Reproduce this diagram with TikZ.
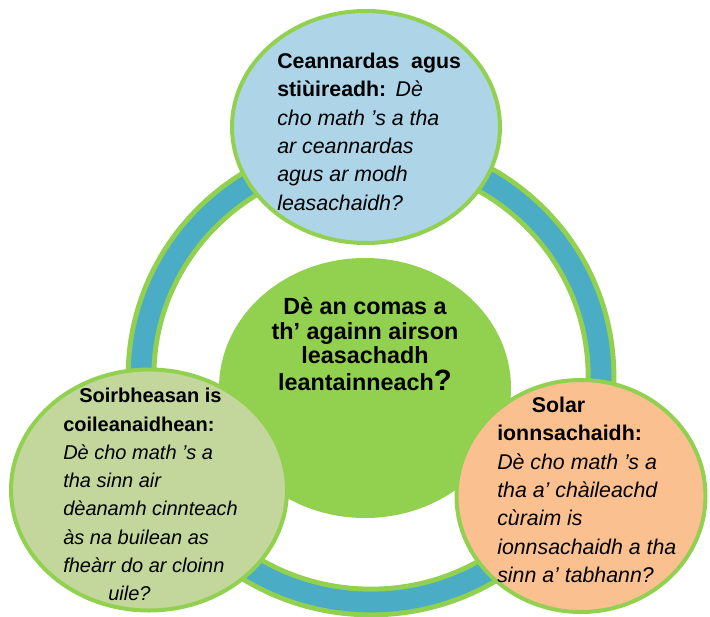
\documentclass[tikz,border=0pt]{standalone}
\usepackage{fontspec}
\setmainfont{Liberation Sans}
\usetikzlibrary{shapes.geometric}

\definecolor{hubgreen}{RGB}{146,208,80}
\definecolor{bandblue}{RGB}{75,172,198}
\definecolor{paleblue}{RGB}{174,212,232}
\definecolor{palegreen}{RGB}{195,214,155}
\definecolor{peach}{RGB}{250,192,144}

\begin{document}
\begin{tikzpicture}[x=0.75pt,y=-0.75pt,
    bubble/.style={ellipse,draw=hubgreen,line width=3pt,inner sep=0pt},
    bubbletext/.style={anchor=north west,inner sep=0pt,align=left}]
    \useasboundingbox (0,0) rectangle (710,617);

    % Ring round the hub
    \draw[hubgreen,line width=23pt] (371,376) ellipse (230 and 226);
    \draw[bandblue,line width=15.5pt] (371,376) ellipse (230 and 226);

    % Hub in the middle
    \node[ellipse,fill=hubgreen,minimum width=219pt,minimum height=195pt] (hub) at (365,388) {};
    \node[anchor=north,inner sep=0pt,align=center,font=\bfseries\fontsize{17.5}{18.6}\selectfont] (hubtext) at (365,297)
        {Dè an comas a\\ th’ againn airson\\ leasachadh\\[1.5pt] leantainneach{\fontsize{22}{22}\selectfont ?}};

    % Top bubble
    \node[bubble,fill=paleblue,minimum width=201pt,minimum height=174pt] (lead) at (366,127) {};
    \node[bubbletext,font=\fontsize{16}{21.2}\selectfont] (leadtext) at (277,53)
        {\textbf{Ceannardas\ \ agus}\\
         \textbf{stiùireadh:}\hspace{7pt}\textit{Dè}\\
         \textit{cho math ’s a tha}\\
         \textit{ar ceannardas}\\
         \textit{agus ar modh}\\
         \textit{leasachaidh?}};

    % Left bubble
    \node[bubble,fill=palegreen,minimum width=207pt,minimum height=180.75pt] (result) at (149,490) {};
    \node[bubbletext,font=\fontsize{15}{21.2}\selectfont] (resulttext) at (63,388)
        {\hspace*{12pt}\textbf{Soirbheasan is}\\
         \textbf{coileanaidhean:}\\
         \textit{Dè cho math ’s a}\\
         \textit{tha sinn air}\\
         \textit{dèanamh cinnteach}\\
         \textit{às na builean as}\\
         \textit{fheàrr do ar cloinn}\\
         \hspace*{33.75pt}\textit{uile?}};

    % Right bubble
    \node[bubble,fill=peach,minimum width=186.75pt,minimum height=174pt] (learn) at (581,496) {};
    \node[bubbletext,font=\fontsize{16}{21.2}\selectfont] (learntext) at (497,397)
        {\hspace*{26pt}\textbf{Solar}\\
         \textbf{ionnsachaidh:}\\
         \textit{Dè cho math ’s a}\\
         \textit{tha a’ chàileachd}\\
         \textit{cùraim is}\\
         \textit{ionnsachaidh a tha}\\
         \textit{sinn a’ tabhann?}};
\end{tikzpicture}
\end{document}
